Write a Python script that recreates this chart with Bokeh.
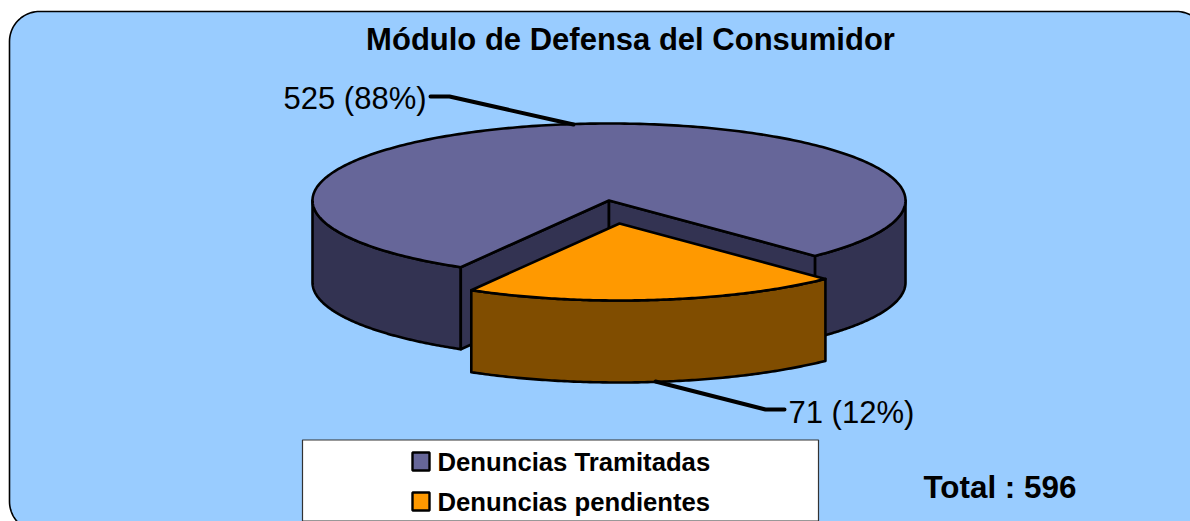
import numpy as np
from bokeh.plotting import figure
from bokeh.models import Range1d
from bokeh.core.properties import value
from bokeh.embed import file_html
from bokeh.resources import INLINE

# ---- data ----
title_text = "Módulo de Defensa del Consumidor"
categories = ["Denuncias Tramitadas", "Denuncias pendientes"]
counts = [525, 71]
total_label = "Total : "

# ---- styling / geometry (page pixels) ----
FONT = value("Liberation Sans")
W, H = 1190, 521
TOP_MAIN, SIDE_MAIN = "#666699", "#333352"
TOP_SLICE, SIDE_SLICE = "#FF9900", "#804D00"
BG = "#99CCFF"
CX, CY, RX, RY, DEPTH = 608.5, 200, 296.5, 77, 82
EXPLODE = (10.5, 23)
GAP_CENTER = 7.0
STRETCH = 1.725  # the 3-D projection widens front angles

total = sum(counts)
span = counts[1] / total * 360 * STRETCH
t0, t1 = GAP_CENTER - span / 2, GAP_CENTER + span / 2


def arc(t_a, t_b, cx=CX, cy=CY, n=120):
    t = np.radians(np.linspace(t_a, t_b, n))
    return cx + RX * np.sin(t), cy + RY * np.cos(t)


p = figure(width=W, height=H, x_range=Range1d(0, W), y_range=Range1d(H, 0),
           output_backend="svg", toolbar_location=None, min_border=0,
           background_fill_color="white", border_fill_color="white", outline_line_color=None)
p.axis.visible = False
p.grid.visible = False
p.xaxis.visible = False
p.yaxis.visible = False

# rounded panel
L, T, R_, B, rad = 9, 11, 1206, 531, 30
corners = [(L + rad, T + rad, 180, 270), (R_ - rad, T + rad, 270, 360),
           (R_ - rad, B - rad, 0, 90), (L + rad, B - rad, 90, 180)]
px, py = [], []
for cx_, cy_, a, b in corners:
    tt = np.radians(np.linspace(a, b, 24))
    px += list(cx_ + rad * np.cos(tt))
    py += list(cy_ + rad * np.sin(tt))
p.patch(px, py, fill_color=BG, line_color="black", line_width=1.6)

edge = dict(line_color="black", line_width=2.6, line_join="round")

# main slice outer walls
for a, b in [(-90, t0), (t1, 90)]:
    x, y = arc(a, b)
    p.patch(np.r_[x, x[::-1]], np.r_[y, y[::-1] + DEPTH], fill_color=SIDE_MAIN, **edge)
# main slice inner walls
for t in (t0, t1):
    x, y = arc(t, t, n=1)
    p.patch([CX, x[0], x[0], CX], [CY, y[0], y[0] + DEPTH, CY + DEPTH], fill_color=SIDE_MAIN, **edge)
# main slice top
x, y = arc(t1, t0 + 360, n=300)
p.patch(np.r_[CX, x], np.r_[CY, y], fill_color=TOP_MAIN, **edge)

# exploded slice
sx, sy = CX + EXPLODE[0], CY + EXPLODE[1]
x, y = arc(t0, t1, sx, sy)
p.patch(np.r_[x, x[::-1]], np.r_[y, y[::-1] + DEPTH], fill_color=SIDE_SLICE, **edge)
p.patch(np.r_[sx, x], np.r_[sy, y], fill_color=TOP_SLICE, **edge)

# leader lines
lead = dict(line_color="black", line_width=4, line_join="round", line_cap="round")
p.line([430, 449, 573], [96, 96, 124], **lead)
p.line([655, 765, 784], [381, 409, 409], **lead)


def txt(x, y, s, size, bold=False, align="left"):
    p.text([x], [y], text=[s], text_font=FONT, text_font_size=size,
           text_font_style="bold" if bold else "normal", text_color="black",
           text_align=align, text_baseline="middle")


txt(630, 39, title_text, "31px", True, "center")
txt(283, 98, f"{counts[0]} ({round(100 * counts[0] / total)}%)", "31px")
txt(788, 412, f"{counts[1]} ({round(100 * counts[1] / total)}%)", "31px")
txt(923, 487, f"{total_label}{total}", "31.4px", True)

# legend
p.quad(left=[302], right=[818], top=[439.5], bottom=[520.5], fill_color="white",
       line_color="#333333", line_width=1.2)
for name, color, yc in zip(categories, (TOP_MAIN, TOP_SLICE), (461, 501)):
    p.quad(left=[412], right=[429], top=[yc - 9], bottom=[yc + 9], fill_color=color,
           line_color="black", line_width=2.4)
    txt(437, yc, name, "25.7px", True)

open("out.html", "w").write(file_html(p, INLINE))
